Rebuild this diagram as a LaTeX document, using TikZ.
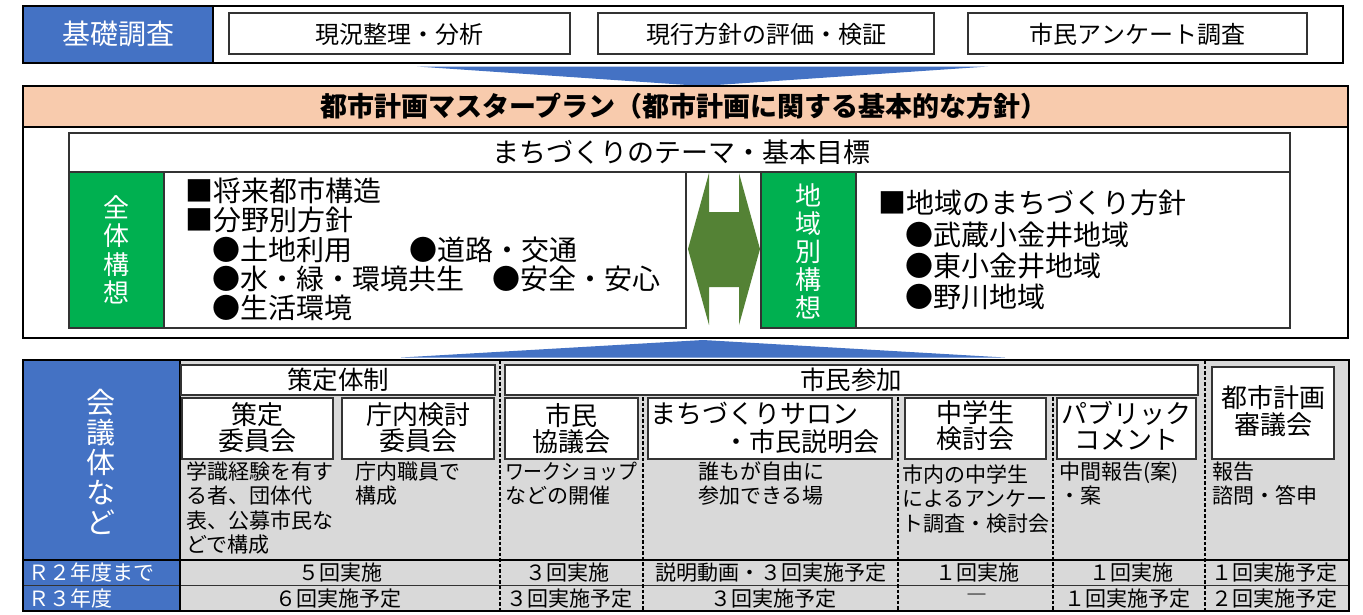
\documentclass[tikz,border=0pt]{standalone}
\usepackage{fontspec}
\setmainfont{Noto Sans CJK JP}
\usepackage{graphicx}
\definecolor{cblue}{HTML}{4472C4}
\definecolor{cgreen}{HTML}{00B050}
\definecolor{colive}{HTML}{548235}
\definecolor{corange}{HTML}{F8CBAD}
\definecolor{cgray}{HTML}{D9D9D9}
\newcommand\fsz[2]{\fontsize{#1}{#2}\selectfont}
\begin{document}
\begin{tikzpicture}[x=1pt,y=-1pt,
  ob/.style={draw=black, line width=1.8pt},
  wb/.style={draw=black!80, line width=1.2pt, fill=white},
  t/.style={inner sep=0pt, outer sep=0pt},
  tw/.style={t, text=white},
  f21/.style={font=\fsz{21}{24.5}},
  f24/.style={font=\fsz{24}{26}},
  f26/.style={font=\fsz{26}{26}},
  f27/.style={font=\fsz{27}{29}},
  f28/.style={font=\fsz{28}{29}},
  dl/.style={draw=black, line width=1.3pt, dash pattern=on 3.5pt off 2pt}]
\useasboundingbox (0,0) rectangle (1363,614);
\fill[white] (0,0) rectangle (1363,614);

% ---------- top section
\draw[ob, fill=white] (23,6) rectangle (1343,63);
\draw[ob, fill=cblue] (23,6) rectangle (213,63);
\node[tw, font=\fsz{28}{30}] (kiso) at (118,34) {基礎調査};
\draw[wb] (229,13) rectangle (570,54);
\node[t, f24] (g1) at (399.5,34) {現況整理・分析};
\draw[wb] (598,13) rectangle (934,54);
\node[t, f24] (g2) at (766,34) {現行方針の評価・検証};
\draw[wb] (968,13) rectangle (1307,54);
\node[t, f24] (g3) at (1137.5,34) {市民アンケート調査};

% down arrow
\fill[cblue] (417,66.5) -- (988,66.5) -- (702,86) -- cycle;

% ---------- master plan
\draw[ob, fill=white] (23,86) rectangle (1348,338);
\draw[ob, fill=corange] (23,86) rectangle (1348,127);
\node[t, font=\fsz{27}{29}\bfseries] (title) at (684,106) {都市計画マスタープラン（都市計画に関する基本的な方針）};

\draw[wb] (69,133) rectangle (1290,172);
\node[t, f27] (theme) at (681,152) {まちづくりのテーマ・基本目標};

\draw[wb, fill=cgreen] (69,172) rectangle (164,328);
\node[tw, align=center, font=\fsz{26}{28.5}] (zentai) at (116,250) {全\\体\\構\\想};
\draw[wb] (164,172) rectangle (686,328);
\node[t, f28, anchor=west] (l1) at (185,191) {■将来都市構造};
\node[t, f28, anchor=west] (l2) at (185,220) {■分野別方針};
\node[t, f28, anchor=west] (l3) at (212,250) {●土地利用};
\node[t, f28, anchor=west] (l4) at (409,250) {●道路・交通};
\node[t, f28, anchor=west] (l5) at (212,279) {●水・緑・環境共生};
\node[t, f28, anchor=west] (l6) at (492,279) {●安全・安心};
\node[t, f28, anchor=west] (l7) at (212,308) {●生活環境};

% double arrow
\fill[colive] (688,249) -- (709,173) -- (709,212) -- (739,212) -- (739,173) -- (760,249)
  -- (739,325) -- (739,287) -- (709,287) -- (709,325) -- cycle;

\draw[wb, fill=cgreen] (761,172) rectangle (856,328);
\node[tw, align=center, font=\fsz{26}{28}] (chiiki) at (808,251) {地\\域\\別\\構\\想};
\draw[wb] (856,172) rectangle (1290,328);
\node[t, f28, anchor=west] (r1) at (878,203) {■地域のまちづくり方針};
\node[t, f28, anchor=west] (r2) at (905,235) {●武蔵小金井地域};
\node[t, f28, anchor=west] (r3) at (905,266) {●東小金井地域};
\node[t, f28, anchor=west] (r4) at (905,297) {●野川地域};

% up arrow
\fill[cblue] (401,357.5) -- (1005,357.5) -- (703,340) -- cycle;

% ---------- table
\fill[cgray] (180,360) rectangle (1349,611);
\fill[cblue] (23,360) rectangle (180,611);
\draw[line width=1.6pt] (23,560) -- (1349,560);
\draw[line width=1.2pt, black!80] (23,585.5) -- (1349,585.5);
\draw[line width=1.5pt] (180,360) -- (180,611);
\draw[dl] (500,360) -- (500,611);
\draw[dl] (1205,360) -- (1205,611);
\draw[dl] (643,397) -- (643,611);
\draw[dl] (898,397) -- (898,611);
\draw[dl] (1053,397) -- (1053,611);
\draw[ob] (23,360) rectangle (1349,611);

\node[tw, align=center, font=\fsz{29}{30}] (kaigi) at (101,462) {会\\議\\体\\な\\ど};
\node[tw, f21, anchor=west] (rr2) at (28,572.5) {Ｒ２年度まで};
\node[tw, f21, anchor=west] (rr3) at (28,598) {Ｒ３年度};

% header boxes
\draw[wb] (181,365) rectangle (495,395);
\node[t, font=\fsz{25.5}{26}] (sakutei) at (338,380) {策定体制};
\draw[wb] (505,365) rectangle (1198,395);
\node[t, font=\fsz{25.5}{26}] (sanka) at (851,380) {市民参加};
\draw[wb] (1212,367) rectangle (1334,459);
\node[t, align=center, font=\fsz{26}{27}] (shingi) at (1273,411.5) {都市計画\\審議会};

% sub boxes
\draw[wb] (182,398) rectangle (333,459);
\node[t, f26, align=center] (b1) at (257.5,428) {策定\\委員会};
\draw[wb] (342,398) rectangle (494,459);
\node[t, f26, align=center] (b2) at (418,428) {庁内検討\\委員会};
\draw[wb] (505,398) rectangle (638,459);
\node[t, f26, align=center] (b3) at (571.5,428.5) {市民\\協議会};
\draw[wb] (648,398) rectangle (892,459);
\node[t, f26, anchor=west] (b4a) at (650,413.5) {まちづくりサロン};
\node[t, f26, anchor=east] (b4b) at (879,441.5) {・市民説明会};
\draw[wb] (905,398) rectangle (1046,459);
\node[t, f26, align=center] (b5) at (975.5,426) {中学生\\検討会};
\draw[wb] (1057,398) rectangle (1196,459);
\node[t, f26, align=center] (b6) at (1126.5,426) {パブリック\\コメント};

% descriptions
\node[t, f21, align=left, anchor=west] (d1) at (186,508) {学識経験を有す\\る者、団体代\\表、公募市民な\\どで構成};
\node[t, f21, align=left, anchor=west] (d2) at (355,483.5) {庁内職員で\\構成};
\node[t, f21, align=left, anchor=west] (d3) at (505,483.5) {\scalebox{0.9}[1]{ワークショップ}\\などの開催};
\node[t, f21, align=center] (d4) at (761,483.5) {誰もが自由に\\参加できる場};
\node[t, f21, align=left, anchor=west] (d5) at (902,499) {市内の中学生\\によるアンケー\\ト調査・検討会};
\node[t, f21, align=left, anchor=west] (d6) at (1059,483.5) {中間報告(案)\\・案};
\node[t, f21, align=left, anchor=west] (d7) at (1212,483.5) {報告\\諮問・答申};

% rows
\node[t, f21] (a2) at (340,572.5) {５回実施};
\node[t, f21] (b2r) at (567,572.5) {３回実施};
\node[t, f21] (c2) at (771,572.5) {説明動画・３回実施予定};
\node[t, f21] (e2) at (977,572.5) {１回実施};
\node[t, f21] (f2) at (1131,572.5) {１回実施};
\node[t, f21] (g2r) at (1274,572.5) {１回実施予定};
\node[t, f21] (a3) at (338,598.5) {６回実施予定};
\node[t, f21] (b3r) at (569,598.5) {３回実施予定};
\node[t, f21] (c3) at (773,598.5) {３回実施予定};
\node[t, f21] (e3) at (977,598.5) {―};
\node[t, f21] (f3) at (1127,598.5) {１回実施予定};
\node[t, f21] (g3r) at (1274,598.5) {２回実施予定};
\end{tikzpicture}
\end{document}
